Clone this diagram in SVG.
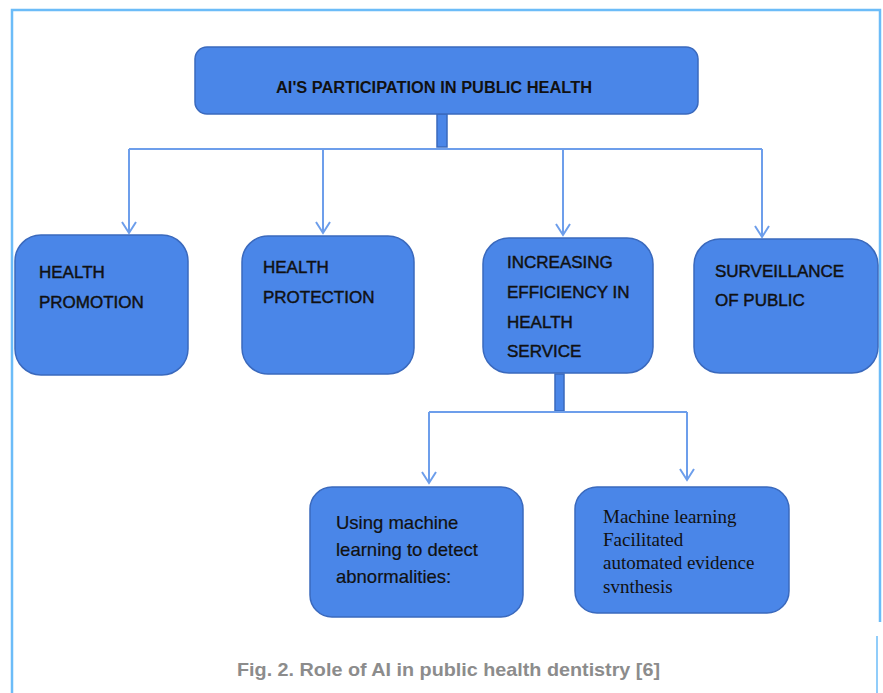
<svg xmlns="http://www.w3.org/2000/svg" width="883" height="693" viewBox="0 0 883 693">
<style>
.box{fill:#4a86e8;stroke:#3a69bd;stroke-width:1.5}
.stub{fill:#4a86e8;stroke:#3a69bd;stroke-width:1.5}
.conn{fill:none;stroke:#6d9eeb;stroke-width:2}
.lbl{font-family:"Liberation Sans",Arial,sans-serif;font-size:17px;fill:#111;stroke:#111;stroke-width:0.45}
.sans{font-family:"Liberation Sans",Arial,sans-serif;font-size:18.5px;fill:#111;stroke:#111;stroke-width:0.2}
.serif{font-family:"Liberation Serif","Times New Roman",serif;font-size:19px;fill:#111}
</style>
<defs>
<marker id="arr" markerWidth="16" markerHeight="16" refX="14" refY="8" orient="auto" markerUnits="userSpaceOnUse" viewBox="0 0 16 16">
<path d="M3,1 L14,8 L3,15" fill="none" stroke="#6d9eeb" stroke-width="2"/>
</marker>
</defs>
<rect width="883" height="693" fill="#fff"/>
<path d="M12,693 V10 H880 V622" fill="none" stroke="#6cbcf8" stroke-width="2.5"/>
<path d="M877,636 V693" fill="none" stroke="#6cbcf8" stroke-width="1.5"/>

<g id="connectors">
<rect class="stub" x="437" y="114" width="10" height="33"/>
<path class="conn" d="M129,149 H762"/>
<path class="conn" d="M129,149 V233" marker-end="url(#arr)"/>
<path class="conn" d="M323,149 V233" marker-end="url(#arr)"/>
<path class="conn" d="M563,149 V235" marker-end="url(#arr)"/>
<path class="conn" d="M762,149 V237" marker-end="url(#arr)"/>
<rect class="stub" x="555" y="374" width="9" height="37"/>
<path class="conn" d="M429,412 H687"/>
<path class="conn" d="M429,412 V483" marker-end="url(#arr)"/>
<path class="conn" d="M687,412 V480" marker-end="url(#arr)"/>
</g>

<g id="root">
<rect class="box" x="195" y="47" width="503" height="67" rx="12"/>
<text x="434" y="93" text-anchor="middle" font-family="'Liberation Sans',Arial,sans-serif" font-size="16" font-weight="bold" fill="#111" textLength="316" lengthAdjust="spacingAndGlyphs">AI'S PARTICIPATION IN PUBLIC HEALTH</text>
</g>

<g id="health-promotion">
<rect class="box" x="15" y="235" width="173" height="140" rx="26"/>
<text class="lbl" x="39" y="278">HEALTH</text>
<text class="lbl" x="39" y="308">PROMOTION</text>
</g>

<g id="health-protection">
<rect class="box" x="242" y="236" width="172" height="138" rx="26"/>
<text class="lbl" x="263" y="273">HEALTH</text>
<text class="lbl" x="263" y="303">PROTECTION</text>
</g>

<g id="efficiency">
<rect class="box" x="483" y="238" width="170" height="135" rx="26"/>
<text class="lbl" x="507" y="268">INCREASING</text>
<text class="lbl" x="507" y="298">EFFICIENCY IN</text>
<text class="lbl" x="507" y="328">HEALTH</text>
<text class="lbl" x="507" y="357">SERVICE</text>
</g>

<g id="surveillance">
<rect class="box" x="694" y="239" width="184" height="134" rx="26"/>
<text class="lbl" x="715" y="277">SURVEILLANCE</text>
<text class="lbl" x="715" y="306">OF PUBLIC</text>
</g>

<g id="detect">
<rect class="box" x="310" y="487" width="213" height="130" rx="22"/>
<text class="sans" x="336" y="529">Using machine</text>
<text class="sans" x="336" y="556">learning to detect</text>
<text class="sans" x="336" y="583">abnormalities:</text>
</g>

<g id="synthesis">
<rect class="box" x="575" y="487" width="214" height="126" rx="22"/>
<text class="serif" x="603" y="523">Machine learning</text>
<text class="serif" x="603" y="546">Facilitated</text>
<text class="serif" x="603" y="569">automated evidence</text>
<text class="serif" x="603" y="593">svnthesis</text>
</g>

<text x="237" y="676" font-family="'Liberation Sans',Arial,sans-serif" font-size="19" font-weight="bold" fill="#8c8c8c" textLength="423" lengthAdjust="spacingAndGlyphs">Fig. 2. Role of AI in public health dentistry [6]</text>
</svg>
